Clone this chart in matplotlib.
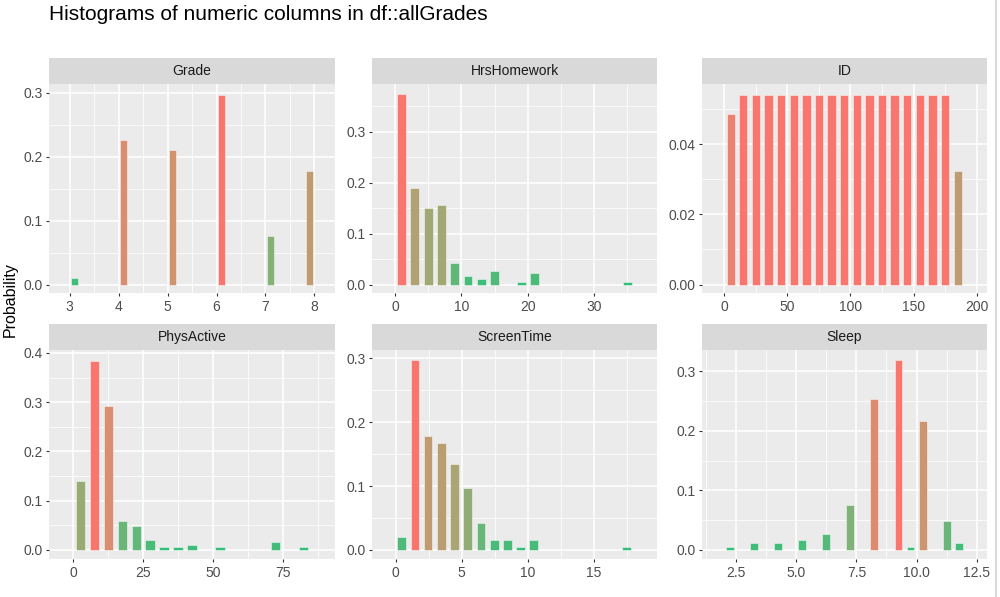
import matplotlib
matplotlib.use("Agg")
import matplotlib.pyplot as plt
from matplotlib.ticker import MultipleLocator, FormatStrFormatter
from matplotlib.lines import Line2D
import numpy as np

plt.rcParams['font.family'] = ['Liberation Sans', 'DejaVu Sans']

# ---------------- data ----------------
panels = ["Grade", "HrsHomework", "ID", "PhysActive", "ScreenTime", "Sleep"]

grade_x = [3.1, 4.1, 5.1, 6.1, 7.1, 7.9]
grade_p = [0.011, 0.227, 0.211, 0.297, 0.076, 0.178]

hrs_x = [1, 3, 5, 7, 9, 11, 13, 15, 19, 21, 35]
hrs_p = [0.373, 0.189, 0.151, 0.157, 0.043, 0.016, 0.011, 0.027, 0.005, 0.022, 0.005]

id_x = [5, 15, 25, 35, 45, 55, 65, 75, 85, 95, 105, 115, 125, 135, 145, 155, 165, 175, 185]
id_p = [0.0487, 0.0541, 0.0541, 0.0541, 0.0541, 0.0541, 0.0541, 0.0541, 0.0541, 0.0541,
        0.0541, 0.0541, 0.0541, 0.0541, 0.0541, 0.0541, 0.0541, 0.0541, 0.0324]

phys_x = [2.5, 7.5, 12.5, 17.5, 22.5, 27.5, 32.5, 37.5, 42.5, 52.5, 72.5, 82.5]
phys_p = [0.141, 0.384, 0.292, 0.059, 0.049, 0.021, 0.005, 0.005, 0.011, 0.005, 0.016, 0.005]

screen_x = [0.45, 1.45, 2.45, 3.45, 4.45, 5.45, 6.45, 7.45, 8.45, 9.45, 10.45, 17.45]
screen_p = [0.021, 0.297, 0.178, 0.168, 0.135, 0.097, 0.043, 0.016, 0.016, 0.005, 0.016, 0.005]

sleep_x = [2.25, 3.25, 4.25, 5.25, 6.25, 7.25, 8.25, 9.25, 9.75, 10.25, 11.25, 11.75]
sleep_p = [0.005, 0.011, 0.011, 0.016, 0.027, 0.076, 0.254, 0.319, 0.005, 0.216, 0.049, 0.011]

binwidths = [0.2, 2, 10, 5, 1, 0.5]

xs = [grade_x, hrs_x, id_x, phys_x, screen_x, sleep_x]
ps = [grade_p, hrs_p, id_p, phys_p, screen_p, sleep_p]

# ---------------- layout / style ----------------
W, H = 1000, 597
xlims = [(2.577, 8.42), (-3.5, 39.5), (-18, 208.5), (-8.7, 93.7), (-1.82, 19.8), (1.073, 12.94)]
ylims = [(-0.0135, 0.3135), (-0.017, 0.393), (-0.0025, 0.0571), (-0.019, 0.406), (-0.0146, 0.313), (-0.0157, 0.3358)]
xmajor = [1, 10, 50, 25, 5, 2.5]
ymajor = [0.1, 0.1, 0.02, 0.1, 0.1, 0.1]
xfmt = ["%d", "%d", "%d", "%d", "%d", "%.1f"]
yfmt = ["%.1f", "%.1f", "%.2f", "%.1f", "%.1f", "%.1f"]

col_px = [(49, 335), (371.7, 657.3), (701.7, 987.3)]
row_px = [((58.3, 84.3), (84.3, 293.3)), ((324, 350), (350, 559.3))]


def srgb_to_lab(rgb):
    rgb = np.asarray(rgb, dtype=float)
    lin = np.where(rgb <= 0.04045, rgb / 12.92, ((rgb + 0.055) / 1.055) ** 2.4)
    M = np.array([[0.4124, 0.3576, 0.1805], [0.2126, 0.7152, 0.0722], [0.0193, 0.1192, 0.9505]])
    xyz = M @ lin
    xyz = xyz / np.array([0.95047, 1.0, 1.08883])
    f = np.where(xyz > (6 / 29) ** 3, np.cbrt(xyz), xyz / (3 * (6 / 29) ** 2) + 4 / 29)
    return np.array([116 * f[1] - 16, 500 * (f[0] - f[1]), 200 * (f[1] - f[2])])


def lab_to_srgb(lab):
    L, a, b = lab
    fy = (L + 16) / 116
    fx = fy + a / 500
    fz = fy - b / 200
    f = np.array([fx, fy, fz])
    xyz = np.where(f > 6 / 29, f ** 3, 3 * (6 / 29) ** 2 * (f - 4 / 29))
    xyz = xyz * np.array([0.95047, 1.0, 1.08883])
    Minv = np.array([[3.2406, -1.5372, -0.4986], [-0.9689, 1.8758, 0.0415], [0.0557, -0.2040, 1.0570]])
    lin = Minv @ xyz
    lin = np.clip(lin, 0, 1)
    rgb = np.where(lin <= 0.0031308, 12.92 * lin, 1.055 * lin ** (1 / 2.4) - 0.055)
    return np.clip(rgb, 0, 1)


low_lab = srgb_to_lab(np.array([46, 190, 122]) / 255.0)
high_lab = srgb_to_lab(np.array([248, 118, 109]) / 255.0)

fig = plt.figure(figsize=(W / 100, H / 100), dpi=100)
fig.patch.set_facecolor("white")

for i, name in enumerate(panels):
    r, c = divmod(i, 3)
    (sx0, sx1) = col_px[c]
    (st, sb), (pt, pb) = row_px[r]
    ax = fig.add_axes([sx0 / W, 1 - pb / H, (sx1 - sx0) / W, (pb - pt) / H])
    sax = fig.add_axes([sx0 / W, 1 - sb / H, (sx1 - sx0) / W, (sb - st) / H])
    sax.set_facecolor("#D9D9D9")
    sax.set_xticks([]); sax.set_yticks([])
    for s in sax.spines.values():
        s.set_visible(False)
    sax.text(0.5, 0.5, name, ha="center", va="center", fontsize=10, color="#1A1A1A",
             transform=sax.transAxes)

    ax.set_facecolor("#EBEBEB")
    for s in ax.spines.values():
        s.set_visible(False)
    x = np.array(xs[i], dtype=float)
    p = np.array(ps[i], dtype=float)
    t = p / p.max()
    cols = [tuple(lab_to_srgb(low_lab + (high_lab - low_lab) * tt)) for tt in t]
    ax.bar(x, p, width=binwidths[i] * 0.66, color=cols, edgecolor=(1, 1, 1, 0.55),
           linewidth=0.6, zorder=3)
    ax.set_xlim(*xlims[i])
    ax.set_ylim(*ylims[i])
    ax.xaxis.set_major_locator(MultipleLocator(xmajor[i]))
    ax.xaxis.set_minor_locator(MultipleLocator(xmajor[i] / 2))
    ax.yaxis.set_major_locator(MultipleLocator(ymajor[i]))
    ax.yaxis.set_minor_locator(MultipleLocator(ymajor[i] / 2))
    ax.xaxis.set_major_formatter(FormatStrFormatter(xfmt[i]))
    ax.yaxis.set_major_formatter(FormatStrFormatter(yfmt[i]))
    ax.grid(which="major", color="white", linewidth=1.1, zorder=0)
    ax.grid(which="minor", color="white", linewidth=0.55, zorder=0)
    ax.set_axisbelow(True)
    ax.tick_params(which="major", length=2.5, width=0.8, color="#333333",
                   labelsize=10, labelcolor="#4D4D4D", pad=2)
    ax.tick_params(which="minor", length=0)

fig.text(49 / W, 1 - 14 / H, "Histograms of numeric columns in df::allGrades",
         ha="left", va="center", fontsize=15, color="black")
fig.text(10 / W, 1 - 300 / H, "Probability", rotation=90, ha="center", va="center",
         fontsize=11.5, color="black")

fig.add_artist(Line2D([995.5 / W, 995.5 / W], [0, 1], color="#DADADA", linewidth=1.5))

fig.savefig("out.png", dpi=100, facecolor="white")
